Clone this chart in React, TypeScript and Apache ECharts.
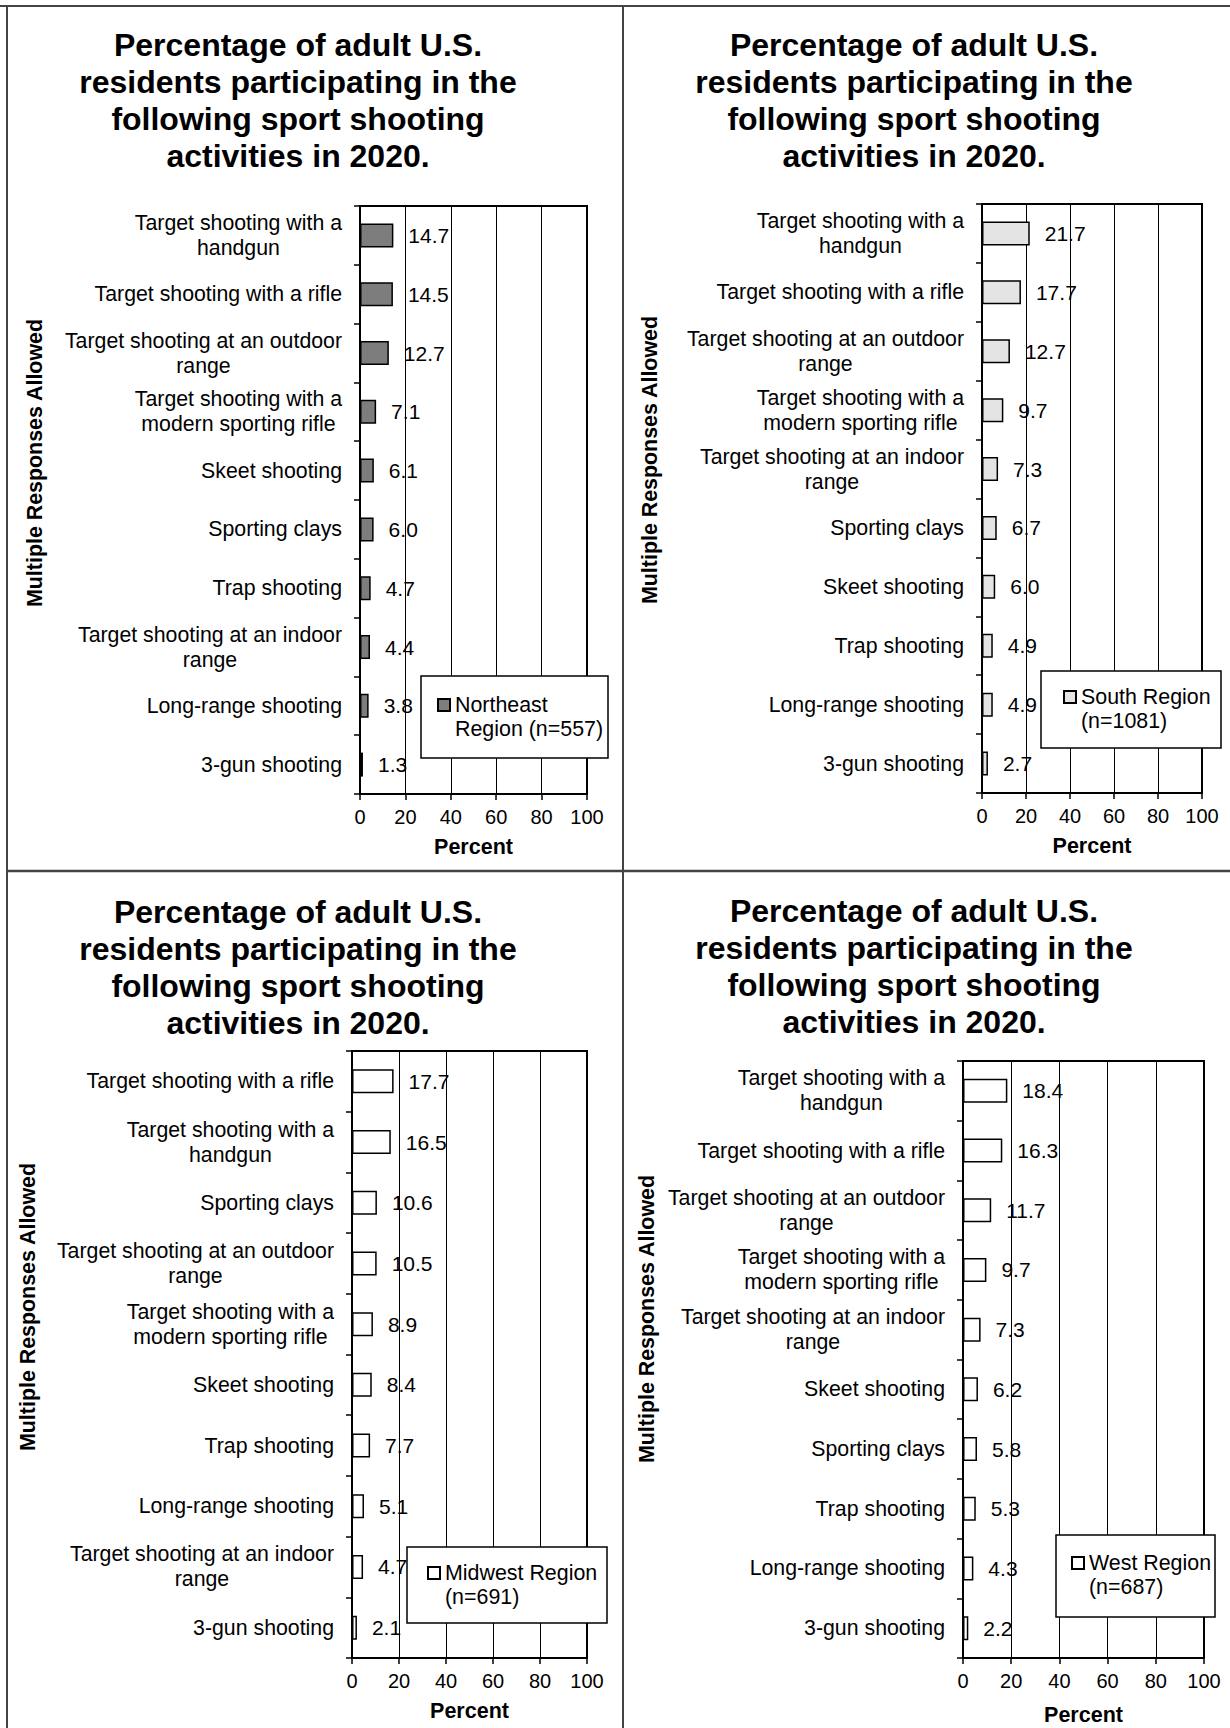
import React, { useEffect, useRef } from 'react';
import * as echarts from 'echarts';

const FONT = '"Liberation Sans", Arial, Helvetica, sans-serif';
const TITLE_TEXT = 'Percentage of adult U.S.\nresidents participating in the\nfollowing sport shooting\nactivities in 2020.';
const Y_NAME = 'Multiple Responses Allowed';
const X_NAME = 'Percent';
const X_TICKS = [0, 20, 40, 60, 80, 100];

// Northeast
const neCategories = [
  'Target shooting with a\nhandgun',
  'Target shooting with a rifle',
  'Target shooting at an outdoor\nrange',
  'Target shooting with a\nmodern sporting rifle',
  'Skeet shooting',
  'Sporting clays',
  'Trap shooting',
  'Target shooting at an indoor\nrange',
  'Long-range shooting',
  '3-gun shooting',
];
const neValues = [14.7, 14.5, 12.7, 7.1, 6.1, 6.0, 4.7, 4.4, 3.8, 1.3];

// South
const soCategories = [
  'Target shooting with a\nhandgun',
  'Target shooting with a rifle',
  'Target shooting at an outdoor\nrange',
  'Target shooting with a\nmodern sporting rifle',
  'Target shooting at an indoor\nrange',
  'Sporting clays',
  'Skeet shooting',
  'Trap shooting',
  'Long-range shooting',
  '3-gun shooting',
];
const soValues = [21.7, 17.7, 12.7, 9.7, 7.3, 6.7, 6.0, 4.9, 4.9, 2.7];

// Midwest
const mwCategories = [
  'Target shooting with a rifle',
  'Target shooting with a\nhandgun',
  'Sporting clays',
  'Target shooting at an outdoor\nrange',
  'Target shooting with a\nmodern sporting rifle',
  'Skeet shooting',
  'Trap shooting',
  'Long-range shooting',
  'Target shooting at an indoor\nrange',
  '3-gun shooting',
];
const mwValues = [17.7, 16.5, 10.6, 10.5, 8.9, 8.4, 7.7, 5.1, 4.7, 2.1];

// West
const weCategories = [
  'Target shooting with a\nhandgun',
  'Target shooting with a rifle',
  'Target shooting at an outdoor\nrange',
  'Target shooting with a\nmodern sporting rifle',
  'Target shooting at an indoor\nrange',
  'Skeet shooting',
  'Sporting clays',
  'Trap shooting',
  'Long-range shooting',
  '3-gun shooting',
];
const weValues = [18.4, 16.3, 11.7, 9.7, 7.3, 6.2, 5.8, 5.3, 4.3, 2.2];

const seriesNames = [
  'Northeast\nRegion (n=557)',
  'South Region\n(n=1081)',
  'Midwest Region\n(n=691)',
  'West Region\n(n=687)',
];
const barColors = ['#7d7d7d', '#e4e4e4', '#ffffff', '#ffffff'];

const panels = [
  { cats: neCategories, vals: neValues, grid: [360, 206, 227, 588], titleX: 298, titleTop: 27, yName: [35, 463], legend: [437, 705], box: [421, 676, 187, 82], nameGap: 42 },
  { cats: soCategories, vals: soValues, grid: [982, 204, 220, 589], titleX: 914, titleTop: 27, yName: [650, 460], legend: [1063, 697], box: [1041, 671, 180, 77], nameGap: 42 },
  { cats: mwCategories, vals: mwValues, grid: [352, 1051, 235, 607], titleX: 298, titleTop: 894, yName: [28, 1307], legend: [427, 1573], box: [407, 1547, 200, 76], nameGap: 42 },
  { cats: weCategories, vals: weValues, grid: [963, 1061, 241, 597], titleX: 914, titleTop: 893, yName: [647, 1319], legend: [1071, 1563], box: [1056, 1535, 159, 82], nameGap: 46 },
];

export default function App() {
  const ref = useRef<HTMLDivElement>(null);
  useEffect(() => {
    if (!ref.current) return;
    const chart = echarts.init(ref.current, undefined, { renderer: 'svg' });

    const textBase = { fontFamily: FONT, color: '#000' };

    const grids = panels.map((p) => ({
      left: p.grid[0], top: p.grid[1], width: p.grid[2], height: p.grid[3],
      show: true, borderColor: '#000', borderWidth: 2, backgroundColor: 'transparent',
      containLabel: false,
    }));

    const xAxes = panels.map((p, i) => ({
      type: 'value', gridIndex: i, min: X_TICKS[0], max: X_TICKS[X_TICKS.length - 1], interval: 20,
      axisLine: { show: true, lineStyle: { color: '#000', width: 2 } },
      axisTick: { show: true, length: 6, lineStyle: { color: '#000', width: 1.5 } },
      splitLine: { show: true, lineStyle: { color: '#000', width: 1 } },
      axisLabel: { ...textBase, fontSize: 20, margin: 13 },
      name: X_NAME, nameLocation: 'middle', nameGap: p.nameGap,
      nameTextStyle: { ...textBase, fontSize: 21.5, fontWeight: 'bold' },
    }));

    const yAxes = panels.map((p, i) => ({
      type: 'category', gridIndex: i, data: p.cats, inverse: true,
      axisLine: { show: true, lineStyle: { color: '#000', width: 2 } },
      axisTick: { show: true, length: 6, interval: 0, lineStyle: { color: '#000', width: 1.5 } },
      splitLine: { show: false },
      axisLabel: {
        ...textBase, fontSize: 21.3, lineHeight: 25, margin: 18, interval: 0,
        formatter: (v: string) => {
          const lines = v.split('\n');
          if (lines.length === 1) return v;
          return lines.map((l) => `{c|${l}}`).join('\n');
        },
        rich: { c: { align: 'center', fontFamily: FONT, fontSize: 21.3, lineHeight: 25, color: '#000' } },
      },
    }));

    const series = panels.map((p, i) => ({
      type: 'bar', name: seriesNames[i], xAxisIndex: i, yAxisIndex: i, data: p.vals,
      barWidth: 24,
      itemStyle: { color: barColors[i], borderColor: '#000', borderWidth: 1.5 },
      label: {
        show: true, position: 'right', distance: 15, ...textBase, fontSize: 21,
        formatter: (q: any) => Number(q.value).toFixed(1),
      },
    }));

    const legends = panels.map((p, i) => ({
      data: [seriesNames[i]], left: p.legend[0], top: p.legend[1] - 36, orient: 'vertical',
      icon: 'rect', itemWidth: 12, itemHeight: 12, selectedMode: false, padding: 0, z: 110,
      formatter: (n: string) => '\n' + n,
      textStyle: { ...textBase, fontSize: 21.4, lineHeight: 24 },
    }));

    const graphics: any[] = [
      { type: 'line', shape: { x1: 0, y1: 6, x2: 1230, y2: 6 }, style: { stroke: '#444', lineWidth: 2 } },
      { type: 'line', shape: { x1: 7, y1: 6, x2: 7, y2: 1728 }, style: { stroke: '#444', lineWidth: 2 } },
      { type: 'line', shape: { x1: 623, y1: 6, x2: 623, y2: 1728 }, style: { stroke: '#444', lineWidth: 2 } },
      { type: 'line', shape: { x1: 7, y1: 871, x2: 1230, y2: 871 }, style: { stroke: '#444', lineWidth: 2.5 } },
    ];
    panels.forEach((p) => {
      graphics.push({
        type: 'text', x: p.titleX, y: p.titleTop,
        style: { text: TITLE_TEXT, fontFamily: FONT, fontSize: 32, fontWeight: 'bold', lineHeight: 36.8, fill: '#000', textAlign: 'center', textVerticalAlign: 'top' },
      });
      graphics.push({
        type: 'text', x: p.yName[0], y: p.yName[1], rotation: Math.PI / 2,
        style: { text: Y_NAME, fontFamily: FONT, fontSize: 21.4, fontWeight: 'bold', fill: '#000', textAlign: 'center', textVerticalAlign: 'middle' },
      });
      graphics.push({
        type: 'rect', z: 100,
        shape: { x: p.box[0], y: p.box[1], width: p.box[2], height: p.box[3] },
        style: { fill: '#fff', stroke: '#000', lineWidth: 1.5 },
      });
    });

    chart.setOption({
      animation: false,
      backgroundColor: '#fff',
      grid: grids,
      xAxis: xAxes,
      yAxis: yAxes,
      series,
      legend: legends,
      graphic: { elements: graphics },
    });
    return () => chart.dispose();
  }, []);
  return <div ref={ref} style={{ position: 'absolute', left: 0, top: 0, width: 1230, height: 1728 }} />;
}
